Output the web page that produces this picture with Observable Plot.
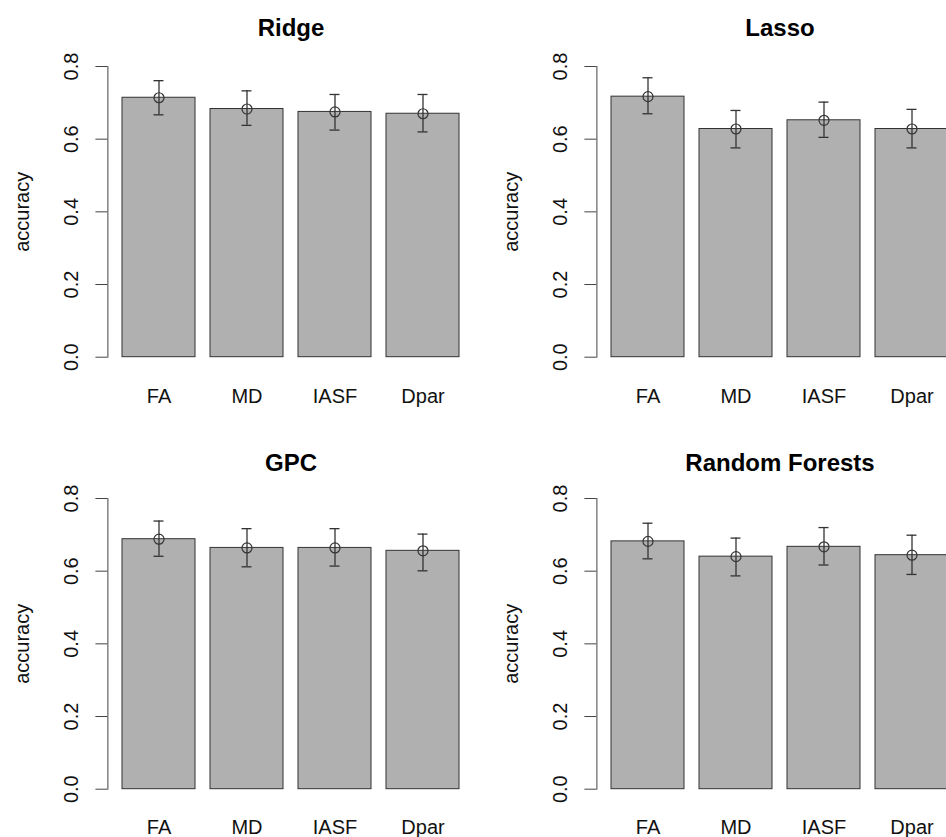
<!DOCTYPE html>
<html>
<head>
<meta charset="utf-8">
<script src="https://cdn.jsdelivr.net/npm/d3@7"></script>
<script src="https://cdn.jsdelivr.net/npm/@observablehq/plot@0.6"></script>
<style>
  html, body { margin: 0; padding: 0; background: white; }
  #wrap { position: relative; width: 946px; height: 837px; overflow: hidden; background: white; }
  #wrap > div { position: absolute; width: 489px; height: 433px; }
  #wrap svg { max-width: none !important; display: block; }
</style>
</head>
<body>
<div id="wrap"></div>
<script>
const categories = ["FA", "MD", "IASF", "Dpar"];
const models = ["Ridge", "Lasso", "GPC", "Random Forests"];
const yTicks = [0, 0.2, 0.4, 0.6, 0.8];
const yLabel = "accuracy";

const ridgeMean = [0.714, 0.683, 0.675, 0.670];
const ridgeLow  = [0.667, 0.638, 0.625, 0.620];
const ridgeHigh = [0.761, 0.733, 0.723, 0.723];

const lassoMean = [0.717, 0.628, 0.652, 0.628];
const lassoLow  = [0.670, 0.576, 0.605, 0.576];
const lassoHigh = [0.769, 0.679, 0.702, 0.682];

const gpcMean = [0.688, 0.664, 0.664, 0.656];
const gpcLow  = [0.641, 0.612, 0.614, 0.601];
const gpcHigh = [0.738, 0.717, 0.717, 0.702];

const rfMean = [0.682, 0.640, 0.667, 0.644];
const rfLow  = [0.634, 0.587, 0.617, 0.591];
const rfHigh = [0.732, 0.691, 0.720, 0.699];

const series = [
  [ridgeMean, ridgeLow, ridgeHigh],
  [lassoMean, lassoLow, lassoHigh],
  [gpcMean, gpcLow, gpcHigh],
  [rfMean, rfLow, rfHigh]
];

const font = "'Liberation Sans', Arial, Helvetica, sans-serif";
const W = 489, H = 433;
const positions = [[0, 0], [489, 0], [0, 432.3], [489, 432.3]];
const titleDy = [-37.7, -37.7, -35.6, -35.6];
const xPad = [32, 32, 30.5, 30.5];

const wrap = document.getElementById("wrap");

models.forEach((model, k) => {
  const [mean, low, high] = series[k];
  const data = categories.map((c, i) => ({cat: c, mean: mean[i], low: low[i], high: high[i]}));
  const chart = Plot.plot({
    width: W,
    height: H,
    marginLeft: 107.4,
    marginRight: 15.4,
    marginTop: 66,
    marginBottom: 76.3,
    style: {fontFamily: font, fontSize: "20px", color: "black", background: "white", overflow: "visible", maxWidth: "none"},
    x: {domain: categories, paddingInner: 1 / 6, paddingOuter: 0.1533, label: null},
    y: {domain: [0, 0.8], label: null},
    marks: [
      Plot.barY(data, {x: "cat", y: "mean", fill: "#b0b0b0", stroke: "#333", strokeWidth: 1}),
      Plot.ruleX(data, {x: "cat", y1: "low", y2: "high", stroke: "#333", strokeWidth: 1.3}),
      Plot.tickY(data, {x: "cat", y: "low", stroke: "#333", strokeWidth: 1.3, insetLeft: 31.5, insetRight: 31.5}),
      Plot.tickY(data, {x: "cat", y: "high", stroke: "#333", strokeWidth: 1.3, insetLeft: 31.5, insetRight: 31.5}),
      Plot.dot(data, {x: "cat", y: "mean", r: 5, stroke: "#333", strokeWidth: 1.2, fill: "none"}),
      Plot.frame({anchor: "left", stroke: "#444", strokeWidth: 1}),
      Plot.axisY({ticks: yTicks, tickSize: 12, tickFormat: () => "", label: null, stroke: "#444"}),
      Plot.text(yTicks, {y: d => d, text: d => d.toFixed(1), frameAnchor: "left", dx: -36.6, rotate: -90, textAnchor: "middle", lineAnchor: "middle", fontSize: 20, fill: "#111"}),
      Plot.axisX({tickSize: 0, tickPadding: xPad[k], fontSize: 20, label: null, fill: "#111"}),
      Plot.text([yLabel], {frameAnchor: "left", dx: -85.4, rotate: -90, textAnchor: "middle", lineAnchor: "middle", fontSize: 20, fill: "#111"}),
      Plot.text([model], {frameAnchor: "top", dy: titleDy[k], lineAnchor: "middle", fontSize: 24, fontWeight: "bold", fill: "black"})
    ]
  });
  const holder = document.createElement("div");
  holder.style.left = positions[k][0] + "px";
  holder.style.top = positions[k][1] + "px";
  holder.appendChild(chart);
  wrap.appendChild(holder);
});
</script>
</body>
</html>
